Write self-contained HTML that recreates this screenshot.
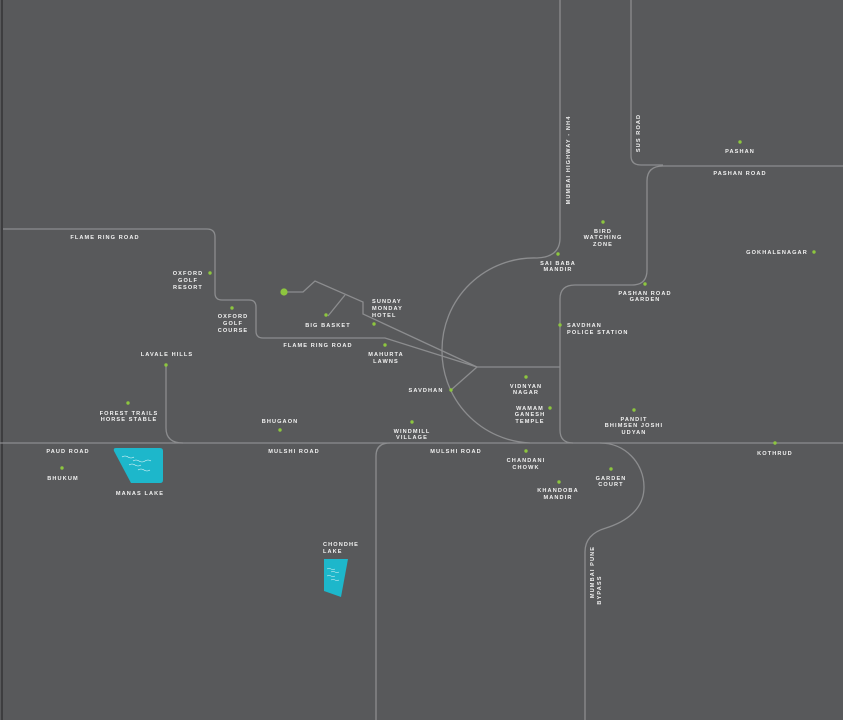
<!DOCTYPE html>
<html><head><meta charset="utf-8"><style>
html,body{margin:0;padding:0;background:#58595b;}
svg{display:block}
text{font-family:"Liberation Sans",sans-serif;font-size:5.6px;font-weight:bold;fill:#f2f2f2;letter-spacing:1.1px;text-anchor:middle}
</style></head><body>
<svg width="843" height="720" viewBox="0 0 843 720" xmlns="http://www.w3.org/2000/svg">
<rect width="843" height="720" fill="#58595b"/>
<rect x="1" y="0" width="2" height="720" fill="#3d3d3f"/>
<g fill="none" stroke="#8c8d8f" stroke-width="1.3">
<path d="M0,443 H843"/>
<path d="M3,229 H207 Q215,229 215,237 V293 Q215,300 222,300 H249 Q256,300 256,307 V331 Q256,338 263,338 H385 L477,367"/>
<path d="M284,292 H303 L315,281 L363,302 V314 L477,367"/>
<path d="M345,295 L328,316"/>
<path d="M537,258 A92,92 0 0 0 442,350 A92,92 0 0 0 530,443"/>
<path d="M560,0 V238 Q560,257 537,258"/>
<path d="M477,367 H560"/>
<path d="M451,390 L477,367"/>
<path d="M573,443 Q560,443 560,430 V299 Q560,285 575,285 H632 Q647,285 647,270 V181 Q647,166 663,166 H843"/>
<path d="M631,0 V156 Q631,165 641,165 H663"/>
<path d="M600,443 C625,443 644,463 644,487 C644,510 625,522 606,528 C592,532 585,540 585,552 V720"/>
<path d="M376,720 V456 Q376,443 390,443"/>
<path d="M166,365 V428 Q166,443 183,443"/>
</g>
<circle cx="284" cy="292" r="3.6" fill="#8dc63f"/>
<g fill="#8dc63f">
<circle cx="210" cy="273" r="1.7"/><circle cx="232" cy="308" r="1.7"/><circle cx="326" cy="315" r="1.7"/>
<circle cx="374" cy="324" r="1.7"/><circle cx="385" cy="345" r="1.7"/><circle cx="166" cy="365" r="1.7"/>
<circle cx="128" cy="403" r="1.7"/><circle cx="280" cy="430" r="1.7"/><circle cx="412" cy="422" r="1.7"/>
<circle cx="451" cy="390" r="1.7"/><circle cx="62" cy="468" r="1.7"/>
<circle cx="740" cy="142" r="1.7"/><circle cx="603" cy="222" r="1.7"/><circle cx="558" cy="254" r="1.7"/>
<circle cx="814" cy="252" r="1.7"/><circle cx="645" cy="284" r="1.7"/><circle cx="560" cy="325" r="1.7"/>
<circle cx="526" cy="377" r="1.7"/><circle cx="550" cy="408" r="1.7"/><circle cx="634" cy="410" r="1.7"/>
<circle cx="526" cy="451" r="1.7"/><circle cx="611" cy="469" r="1.7"/><circle cx="559" cy="482" r="1.7"/>
<circle cx="775" cy="443" r="1.7"/>
</g>
<path d="M116,448 H160 Q163,448 163,451 V480 Q163,483 160,483 H131 L114,451 Q113,448 116,448Z" fill="#1db7cb"/>
<g fill="none" stroke="#e8f8fa" stroke-width="0.6">
<path d="M122,457 q3,-2 6,0 t6,0"/><path d="M133,461 q3,-2 6,0 t6,0 t6,0"/><path d="M129,465 q3,-2 6,0 t6,0"/><path d="M138,470 q3,-2 6,0 t6,0"/>
</g>
<path d="M324,559 H348 L341,597 L324,591Z" fill="#1db7cb"/>
<g fill="none" stroke="#e8f8fa" stroke-width="0.5">
<path d="M327,569 q2,-1.5 4,0 t4,0"/><path d="M331,572 q2,-1.5 4,0 t4,0"/><path d="M327,576 q2,-1.5 4,0 t4,0"/><path d="M331,580 q2,-1.5 4,0 t4,0"/>
</g>
<text x="105" y="239">FLAME RING ROAD</text>
<text x="188" y="275">OXFORD</text><text x="188" y="282">GOLF</text><text x="188" y="289">RESORT</text>
<text x="233" y="318">OXFORD</text><text x="233" y="325">GOLF</text><text x="233" y="332">COURSE</text>
<text x="328" y="327">BIG BASKET</text>
<text x="372" y="303" style="text-anchor:start">SUNDAY</text>
<text x="372" y="310" style="text-anchor:start">MONDAY</text>
<text x="372" y="317" style="text-anchor:start">HOTEL</text>
<text x="318" y="347">FLAME RING ROAD</text>
<text x="386" y="356">MAHURTA</text><text x="386" y="363">LAWNS</text>
<text x="167" y="356">LAVALE HILLS</text>
<text x="129" y="415">FOREST TRAILS</text><text x="129" y="421">HORSE STABLE</text>
<text x="280" y="423">BHUGAON</text>
<text x="412" y="433">WINDMILL</text><text x="412" y="439">VILLAGE</text>
<text x="426" y="392">SAVDHAN</text>
<text x="68" y="453">PAUD ROAD</text>
<text x="63" y="480">BHUKUM</text>
<text x="140" y="495">MANAS LAKE</text>
<text x="294" y="453">MULSHI ROAD</text>
<text x="456" y="453">MULSHI ROAD</text>
<text x="323" y="546" style="text-anchor:start">CHONDHE</text><text x="323" y="553" style="text-anchor:start">LAKE</text>
<text x="740" y="153">PASHAN</text>
<text x="740" y="175">PASHAN ROAD</text>
<text x="603" y="233">BIRD</text><text x="603" y="239">WATCHING</text><text x="603" y="246">ZONE</text>
<text x="558" y="265">SAI BABA</text><text x="558" y="271">MANDIR</text>
<text x="777" y="254">GOKHALENAGAR</text>
<text x="645" y="295">PASHAN ROAD</text><text x="645" y="301">GARDEN</text>
<text x="567" y="327" style="text-anchor:start">SAVDHAN</text>
<text x="567" y="334" style="text-anchor:start">POLICE STATION</text>
<text x="526" y="388">VIDNYAN</text><text x="526" y="394">NAGAR</text>
<text x="530" y="410">WAMAM</text><text x="530" y="416">GANESH</text><text x="530" y="423">TEMPLE</text>
<text x="634" y="421">PANDIT</text><text x="634" y="427">BHIMSEN JOSHI</text><text x="634" y="434">UDYAN</text>
<text x="775" y="455">KOTHRUD</text>
<text x="526" y="462">CHANDANI</text><text x="526" y="469">CHOWK</text>
<text x="611" y="480">GARDEN</text><text x="611" y="486">COURT</text>
<text x="558" y="492">KHANDOBA</text><text x="558" y="499">MANDIR</text>
<text transform="translate(570,160) rotate(-90)">MUMBAI HIGHWAY - NH4</text>
<text transform="translate(640,133) rotate(-90)">SUS ROAD</text>
<text transform="translate(594,572) rotate(-90)">MUMBAI PUNE</text>
<text transform="translate(601,590) rotate(-90)">BYPASS</text>
</svg>
</body></html>
